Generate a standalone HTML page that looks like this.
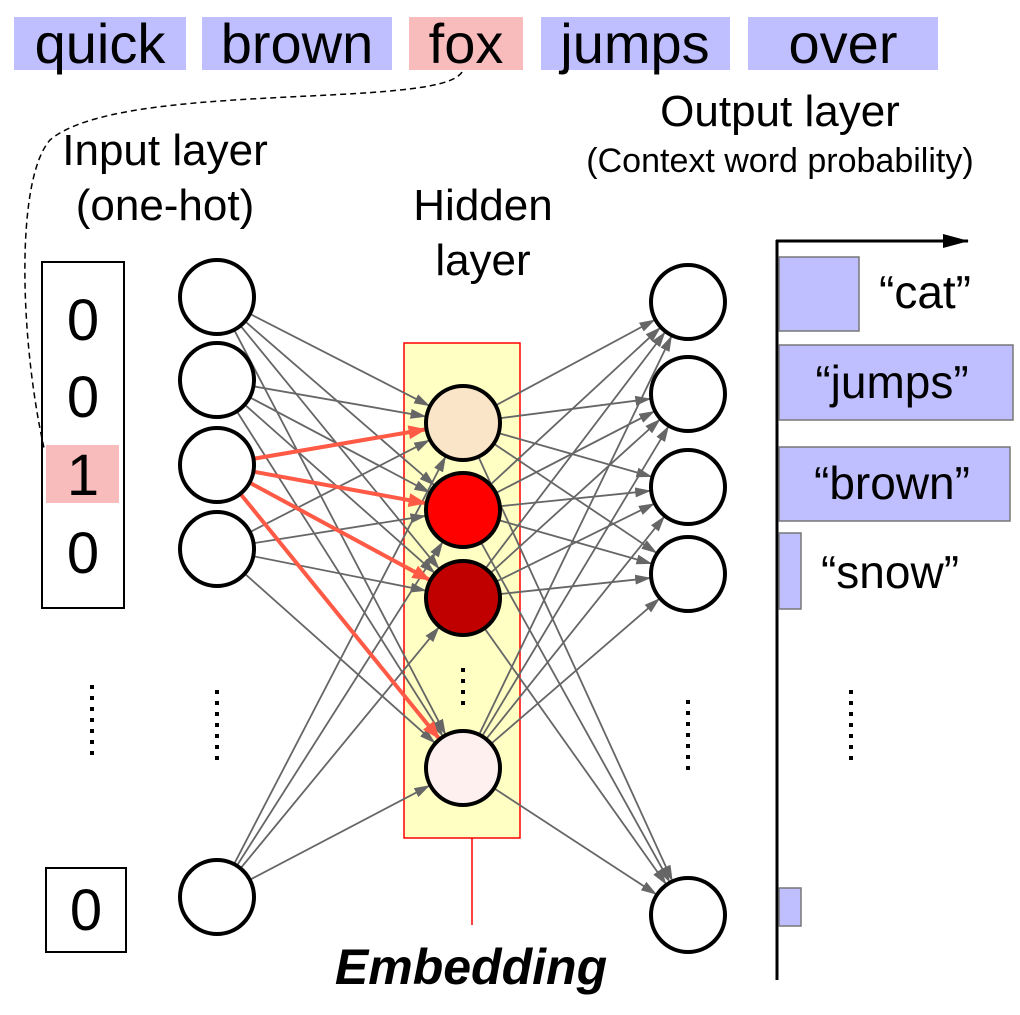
<!DOCTYPE html>
<html><head><meta charset="utf-8"><style>
body{margin:0;background:#fff;width:1020px;height:1010px;overflow:hidden}
svg text{font-family:"Liberation Sans",sans-serif;fill:#000}
</style></head><body>
<svg id="s" width="1020" height="1010" xmlns="http://www.w3.org/2000/svg">
<defs>
<marker id="ag" markerWidth="16" markerHeight="10" refX="15" refY="5" orient="auto" markerUnits="userSpaceOnUse"><path d="M0,0L16,5L0,10z" fill="#666"/></marker>
<marker id="ar" markerWidth="18" markerHeight="14" refX="17" refY="7" orient="auto" markerUnits="userSpaceOnUse"><path d="M0,0L18,7L0,14z" fill="#ff5a46"/></marker>
<marker id="ab" markerWidth="26" markerHeight="14" refX="25" refY="7" orient="auto" markerUnits="userSpaceOnUse"><path d="M0,0L26,7L0,14z" fill="#000"/></marker>
</defs>
<g font-size="56">
<rect x="14" y="17" width="172" height="53" fill="#bfbfff"/><text x="100" y="63" text-anchor="middle">quick</text>
<rect x="202" y="17" width="190" height="53" fill="#bfbfff"/><text x="297" y="63" text-anchor="middle">brown</text>
<rect x="409" y="17" width="114" height="53" fill="#f8bcbc"/><text x="466" y="63" text-anchor="middle">fox</text>
<rect x="541" y="17" width="189" height="53" fill="#bfbfff"/><text x="635" y="63" text-anchor="middle">jumps</text>
<rect x="748" y="17" width="190" height="53" fill="#bfbfff"/><text x="843" y="63" text-anchor="middle">over</text>
</g>
<path d="M462,72 C440,110 120,80 50,140 C15,180 20,340 44,448" fill="none" stroke="#000" stroke-width="1.5" stroke-dasharray="6,4"/>
<g font-size="44" text-anchor="middle">
<text x="165" y="165">Input layer</text><text x="165" y="220">(one-hot)</text>
<text x="483" y="220">Hidden</text><text x="483" y="275">layer</text>
<text x="780" y="126">Output layer</text>
<text x="780" y="172" font-size="34">(Context word probability)</text>
</g>
<rect x="42" y="262" width="82" height="346" fill="none" stroke="#000" stroke-width="2"/>
<rect x="46" y="445" width="73" height="58" fill="#f8bcbc"/>
<g font-size="58" text-anchor="middle">
<text x="83" y="340">0</text><text x="83" y="417">0</text><text x="83" y="495">1</text><text x="83" y="573">0</text>
<text x="86" y="930">0</text></g>
<rect x="46" y="868" width="80" height="84" fill="none" stroke="#000" stroke-width="2"/>
<rect x="404" y="343" width="116" height="495" fill="#ffffc4" stroke="#f00" stroke-width="1.5"/>
<line x1="472" y1="838" x2="472" y2="925" stroke="#f00" stroke-width="1.5"/>
<g id="lines"></g>
<g id="nodes" stroke="#000" stroke-width="4"></g>
<g stroke="#000" stroke-width="4" stroke-dasharray="4,7">
<line x1="92" y1="685" x2="92" y2="758"/><line x1="217" y1="690" x2="217" y2="763"/>
<line x1="463" y1="668" x2="463" y2="708"/><line x1="688" y1="700" x2="688" y2="773"/>
<line x1="851" y1="690" x2="851" y2="763"/></g>
<text x="471" y="984" font-size="50" font-weight="bold" font-style="italic" text-anchor="middle">Embedding</text>
<line x1="777" y1="240" x2="777" y2="980" stroke="#000" stroke-width="3"/>
<line x1="776" y1="241" x2="968" y2="241" stroke="#000" stroke-width="3" marker-end="url(#ab)"/>
<g fill="#bfbfff" stroke="#777" stroke-width="1.5">
<rect x="779" y="257" width="80" height="74"/><rect x="779" y="345" width="234" height="75"/>
<rect x="779" y="447" width="231" height="74"/><rect x="779" y="533" width="22" height="76"/>
<rect x="779" y="888" width="22" height="38"/></g>
<g font-size="46" text-anchor="middle">
<text x="925" y="308">“cat”</text><text x="892" y="398">“jumps”</text>
<text x="892" y="499">“brown”</text><text x="890" y="588">“snow”</text></g>
</svg>
<script>
var NS="http://www.w3.org/2000/svg",R=37;
var inp=[297,380,465,549,897].map(y=>[217,y]);
var hid=[[463,423,"#fbe5c8"],[463,510,"#ff0000"],[463,598,"#c00000"],[463,768,"#fff0f0"]];
var out=[302,394,487,574,915].map(y=>[688,y]);
var L=document.getElementById("lines"),N=document.getElementById("nodes");
function ln(a,b,c,w,m){var dx=b[0]-a[0],dy=b[1]-a[1],d=Math.hypot(dx,dy);
var l=document.createElementNS(NS,"line");
l.setAttribute("x1",a[0]+dx/d*R);l.setAttribute("y1",a[1]+dy/d*R);
l.setAttribute("x2",b[0]-dx/d*(R+1));l.setAttribute("y2",b[1]-dy/d*(R+1));
l.setAttribute("stroke",c);l.setAttribute("stroke-width",w);l.setAttribute("marker-end","url(#"+m+")");L.appendChild(l);}
inp.forEach((a,i)=>{if(i!=2)hid.forEach(b=>ln(a,b,"#666",1.8,"ag"));});
hid.forEach(a=>out.forEach(b=>ln(a,b,"#666",1.8,"ag")));
hid.forEach(b=>ln(inp[2],b,"#ff5a46",4,"ar"));
function c(x,y,f){var e=document.createElementNS(NS,"circle");e.setAttribute("cx",x);e.setAttribute("cy",y);e.setAttribute("r",R);e.setAttribute("fill",f);N.appendChild(e);}
inp.forEach(p=>c(p[0],p[1],"#fff"));hid.forEach(p=>c(p[0],p[1],p[2]));out.forEach(p=>c(p[0],p[1],"#fff"));
</script>
</body></html>
